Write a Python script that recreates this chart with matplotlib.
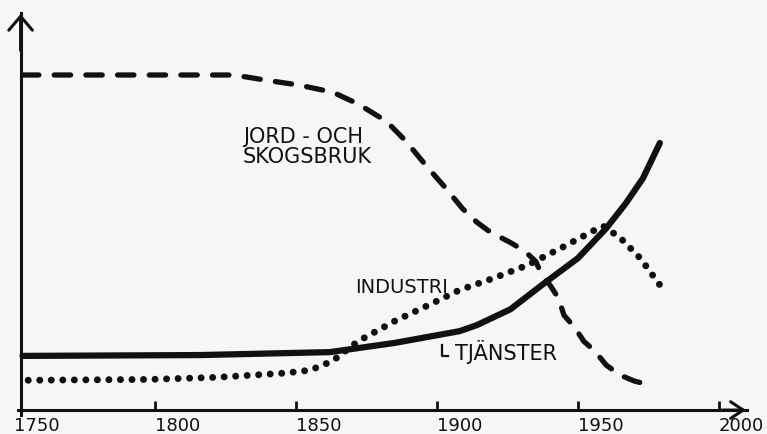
import matplotlib
matplotlib.use("Agg")
import matplotlib.pyplot as plt

# Jord- och skogsbruk (dashed)
jord_years = [1753, 1828, 1839, 1851, 1863, 1872, 1882, 1889, 1896, 1903, 1909, 1914, 1918,
              1922, 1926, 1931, 1935, 1937, 1940, 1943, 1945, 1949, 1952, 1956, 1960, 1965, 1970, 1977]
jord_vals = [79.8, 79.8, 78.6, 77.4, 75.7, 72.9, 68.8, 64.0, 58.3, 52.9, 48.0, 44.8, 42.8,
             41.3, 39.9, 37.9, 35.4, 32.4, 29.8, 26.7, 22.6, 19.5, 16.4, 14.0, 10.7, 8.3, 6.9, 5.7]

# Industri (dotted)
ind_years = [1755, 1798, 1822, 1846, 1855, 1863, 1866, 1872, 1885, 1897, 1908, 1920, 1932,
             1944, 1956, 1959, 1965, 1972, 1979]
ind_vals = [7.1, 7.3, 7.8, 8.8, 9.5, 11.7, 13.3, 16.4, 21.2, 25.0, 28.6, 31.4, 34.5,
            38.6, 42.9, 43.8, 41.0, 36.2, 29.8]

# Tjänster (solid)
tj_years = [1753, 1816, 1862, 1885, 1908, 1914, 1926, 1938, 1950, 1960, 1967, 1973, 1979]
tj_vals = [12.9, 13.1, 13.8, 16.0, 18.8, 20.2, 24.0, 30.2, 36.2, 43.3, 49.3, 55.2, 63.6]

tick_years = [1750, 1800, 1850, 1900, 1950, 2000]

ink = "#111111"
bg = "#f6f6f4"

fig = plt.figure(figsize=(7.67, 4.35), dpi=100, facecolor=bg)
ax = fig.add_axes([0, 0, 1, 1], facecolor=bg)
ax.set_xlim(1745.0, 2017.0)
ax.set_ylim(-5.7, 97.9)

# curves
ax.plot(jord_years, jord_vals, color=ink, lw=3.8, linestyle=(0, (3.1, 2.9)),
        dash_capstyle="round", dash_joinstyle="round")
ax.plot(ind_years, ind_vals, color=ink, lw=5, linestyle=(0, (0.01, 1.65)),
        dash_capstyle="round")
ax.plot(tj_years, tj_vals, color=ink, lw=4.5, solid_capstyle="round",
        solid_joinstyle="round")

# axes drawn like the hand sketch
y_axis_x = 1752.3
for side in ["top", "right"]:
    ax.spines[side].set_visible(False)
ax.spines["bottom"].set_position(("data", 0))
ax.spines["left"].set_position(("data", y_axis_x))
ax.spines["bottom"].set_bounds(y_axis_x - 1, 2010)
ax.spines["left"].set_bounds(-1.2, 94.5)
for side in ["bottom", "left"]:
    ax.spines[side].set_linewidth(2.2)
    ax.spines[side].set_color(ink)

ax.annotate("", xy=(y_axis_x, 95), xytext=(y_axis_x, 85),
            arrowprops=dict(arrowstyle="->,head_length=1.0,head_width=0.85",
                            lw=2.2, color=ink))
ax.annotate("", xy=(2010.5, 0), xytext=(2000, 0),
            arrowprops=dict(arrowstyle="->,head_length=0.9,head_width=0.6",
                            lw=2.2, color=ink))

ax.set_xticks(tick_years)
ax.set_xticklabels([str(t) for t in tick_years])
ax.set_yticks([])
ax.tick_params(axis="x", direction="in", length=6.5, width=2, pad=4,
               labelsize=13, colors=ink)
ax.xaxis.get_major_ticks()[0].tick1line.set_visible(False)
for lab in ax.get_xticklabels():
    lab.set_ha("left")

# labels
ax.text(1831.2, 65.2, "JORD - OCH", fontsize=15, color=ink, ha="left", va="center")
ax.text(1831.2, 60.4, "SKOGSBRUK", fontsize=15, color=ink, ha="left", va="center")
ax.text(1870.9, 29.5, "INDUSTRI", fontsize=14, color=ink, ha="left", va="center")
tj_x, tj_y = 1906.4, 14.0
ax.text(tj_x, tj_y, "TJÄNSTER", fontsize=15, color=ink, ha="left", va="center")
ax.plot([tj_x - 4.6, tj_x - 4.6, tj_x - 2.6], [tj_y + 1.6, tj_y - 1.1, tj_y - 1.1],
        color=ink, lw=1.6)

fig.savefig("out.png", dpi=100, facecolor=bg)
